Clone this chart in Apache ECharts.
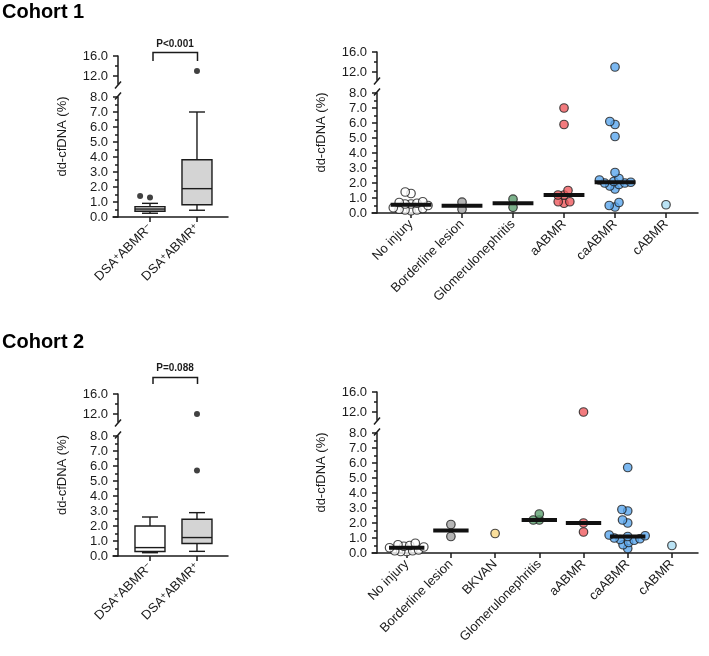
<!DOCTYPE html>
<html>
<head>
<meta charset="utf-8" />
<title>dd-cfDNA by cohort</title>
<script src="https://cdn.jsdelivr.net/npm/echarts@6/dist/echarts.min.js"></script>
<style>
  html, body { margin: 0; padding: 0; background: #fff; }
  #main { width: 709px; height: 656px; }
</style>
</head>
<body>
<div id="main"></div>
<script>
// ---- data ----
// box plots: [min, q1, median, q3, max]
const boxCats = ['DSA+ABMR-', 'DSA+ABMR+'];
const c1Box = [[0.25, 0.38, 0.53, 0.69, 0.91], [0.45, 0.82, 1.89, 3.82, 7.0]];
const c1Outliers = [[1.3, 1.4], [13.0]];
const c2Box = [[0.22, 0.3, 0.56, 2.0, 2.6], [0.31, 0.83, 1.23, 2.45, 2.89]];
const c2Outliers = [[], [5.7, 12.0]];

const c1Cats = ['No injury', 'Borderline lesion', 'Glomerulonephritis', 'aABMR', 'caABMR', 'cABMR'];
const c1NoInjury = [1.4, 1.3, 0.75, 0.7, 0.65, 0.6, 0.6, 0.5, 0.35, 0.3, 0.25, 0.2, 0.2, 0.15];
const c1Borderline = [0.72, 0.25];
const c1Glomerulo = [0.92, 0.38];
const c1aABMR = [7.0, 5.9, 1.5, 1.2, 1.2, 0.75, 0.75, 0.65];
const c1caABMR = [13.0, 6.1, 5.9, 5.1, 2.7, 2.3, 2.2, 2.1, 2.05, 2.0, 2.0, 1.9, 1.8, 1.6, 0.7, 0.5, 0.4];
const c1cABMR = [0.55];

const c2Cats = ['No injury', 'Borderline lesion', 'BKVAN', 'Glomerulonephritis', 'aABMR', 'caABMR', 'cABMR'];
const c2NoInjury = [0.65, 0.55, 0.5, 0.45, 0.4, 0.35, 0.2, 0.15, 0.15, 0.1, 0.1];
const c2Borderline = [1.9, 1.1];
const c2BKVAN = [1.3];
const c2Glomerulo = [2.2, 2.6, 2.2];
const c2aABMR = [12.0, 2.0, 1.4];
const c2caABMR = [5.7, 2.9, 2.8, 2.2, 2.0, 1.2, 1.15, 1.1, 1.0, 0.95, 0.9, 0.85, 0.7, 0.55, 0.3];
const c2cABMR = [0.5];

const upperTicks = [12, 16];
const upperMinor = [14];

// ---- styling ----
const INK = '#1b1b1b';
const FONT = '"Liberation Sans", Arial, Helvetica, sans-serif';
const COL = {
  'No injury': '#ffffff', 'Borderline lesion': '#a3a3a3', 'BKVAN': '#f9d783',
  'Glomerulonephritis': '#5b9e6e', 'aABMR': '#ef5a5e', 'caABMR': '#5aa6ee', 'cABMR': '#a9dcf3'
};
const UP_MIN = 10.4, UP_MAX = 16, LOW_MAX = 8;
const UP_PX = 5, LOW_PX = 15;

const opt = { animation: false, backgroundColor: '#fff', grid: [], xAxis: [], yAxis: [], series: [], graphic: [] };

function median(a) {
  const s = a.slice().sort((x, y) => x - y), n = s.length;
  return n % 2 ? s[(n - 1) / 2] : (s[n / 2 - 1] + s[n / 2]) / 2;
}

// simple beeswarm (points may overlap a bit, like the original): closest free spot to the centre
function swarm(vals, cat, xPx, yPx, d) {
  const placed = [];
  vals.slice().sort((a, b) => a - b).forEach(v => {
    const y = v * yPx;
    const cands = [0];
    placed.forEach(p => {
      const dy = Math.abs(p.y - y);
      if (dy < d) { const dx = Math.sqrt(d * d - dy * dy); cands.push(p.x - dx, p.x + dx); }
    });
    cands.sort((a, b) => Math.abs(a) - Math.abs(b));
    const x = cands.find(c => placed.every(p => (p.x - c) ** 2 + (p.y - y) ** 2 >= d * d - 0.01));
    placed.push({ x: x, y: y, v: v });
  });
  return placed.map(p => [cat + p.x / xPx, p.v]);
}

function addPanel(L) {
  const gUp = opt.grid.length;
  opt.grid.push({ left: L.left, width: L.width, top: L.upTop, height: (UP_MAX - UP_MIN) * UP_PX });
  opt.grid.push({ left: L.left, width: L.width, top: L.lowTop, height: LOW_MAX * LOW_PX });

  const idx = L.cats.map((c, i) => i);
  const lineStyle = { color: INK, width: 1.5 };
  const xUp = opt.xAxis.length;
  opt.xAxis.push({ type: 'value', gridIndex: gUp, min: L.xMin, max: L.xMax, show: false });
  opt.xAxis.push({
    type: 'value', gridIndex: gUp + 1, min: L.xMin, max: L.xMax,
    axisLine: { onZero: false, lineStyle: lineStyle },
    axisTick: { customValues: idx, length: 5, lineStyle: lineStyle },
    axisLabel: {
      customValues: idx, rotate: 45, margin: 9, fontFamily: FONT, fontSize: 13, color: INK,
      formatter: L.labelFmt || (v => L.cats[Math.round(v)]), rich: L.rich
    },
    splitLine: { show: false }
  });

  const lab = { fontFamily: FONT, fontSize: 13, color: INK, margin: 10, formatter: v => v.toFixed(1) };
  const yUp = opt.yAxis.length;
  opt.yAxis.push({
    type: 'value', gridIndex: gUp, position: 'left', min: UP_MIN, max: UP_MAX, offset: -5,
    axisLine: { onZero: false, lineStyle: lineStyle },
    axisTick: { customValues: upperTicks, length: 5, lineStyle: lineStyle },
    axisLabel: Object.assign({ customValues: upperTicks }, lab), splitLine: { show: false }
  });
  opt.yAxis.push({
    type: 'value', gridIndex: gUp, position: 'left', min: UP_MIN, max: UP_MAX, offset: -5,
    axisLine: { show: false, onZero: false },
    axisTick: { show: true, customValues: upperMinor, length: 3, lineStyle: lineStyle },
    axisLabel: { show: false }, splitLine: { show: false }
  });
  opt.yAxis.push({
    type: 'value', gridIndex: gUp + 1, position: 'left', min: 0, max: LOW_MAX, interval: 1, offset: -5,
    axisLine: { onZero: false, lineStyle: lineStyle },
    axisTick: { length: 5, lineStyle: lineStyle },
    minorTick: { show: true, splitNumber: 2, length: 3, lineStyle: lineStyle },
    axisLabel: lab, splitLine: { show: false }, minorSplitLine: { show: false }
  });

  // axis break marks, y-axis name
  const ax = L.left + 5, upBottom = L.upTop + (UP_MAX - UP_MIN) * UP_PX;
  [upBottom + 1, L.lowTop - 1].forEach(y => opt.graphic.push({
    type: 'line', shape: { x1: ax - 3, y1: y + 3.5, x2: ax + 3, y2: y - 3.5 },
    style: { stroke: INK, lineWidth: 1.5 }
  }));
  opt.graphic.push({
    type: 'text', x: L.left - 51, y: (L.upTop + L.lowTop + LOW_MAX * LOW_PX) / 2, rotation: Math.PI / 2,
    style: { text: 'dd-cfDNA (%)', fontFamily: FONT, fontSize: 13, fill: INK, align: 'center', verticalAlign: 'middle' }
  });

  return { xUp: xUp, xLow: xUp + 1, yUp: yUp, yLow: yUp + 2, xPx: L.width / (L.xMax - L.xMin) };
}

function addScatter(L, groups) {
  const a = addPanel(L);
  const meds = [];
  groups.forEach((vals, i) => {
    const style = { color: COL[L.cats[i]], borderColor: INK, borderWidth: 1.2 };
    const low = vals.filter(v => v <= LOW_MAX), up = vals.filter(v => v > LOW_MAX);
    opt.series.push({ type: 'scatter', xAxisIndex: a.xLow, yAxisIndex: a.yLow, symbolSize: 8.5,
      itemStyle: style, z: 3, data: swarm(low, i, a.xPx, LOW_PX, 6) });
    if (up.length) opt.series.push({ type: 'scatter', xAxisIndex: a.xUp, yAxisIndex: a.yUp, symbolSize: 8.5,
      itemStyle: style, z: 3, data: swarm(up, i, a.xPx, UP_PX, 6) });
    if (vals.length > 1) meds.push([i, median(vals)]);
  });
  opt.series.push({
    type: 'custom', xAxisIndex: a.xLow, yAxisIndex: a.yLow, z: 4, data: meds,
    renderItem: function (params, api) {
      const p0 = api.coord([api.value(0) - 0.4, api.value(1)]);
      const p1 = api.coord([api.value(0) + 0.4, api.value(1)]);
      return { type: 'line', shape: { x1: p0[0], y1: p0[1], x2: p1[0], y2: p1[1] }, style: { stroke: '#111', lineWidth: 4 } };
    }
  });
}

function addBox(L, boxes, outliers, fills) {
  const a = addPanel(L);
  opt.series.push({
    type: 'custom', xAxisIndex: a.xLow, yAxisIndex: a.yLow, z: 2,
    data: boxes.map((b, i) => [i].concat(b)),
    renderItem: function (params, api) {
      const x = api.value(0);
      const pt = k => api.coord([x, api.value(k)]);
      const lo = pt(1), q1 = pt(2), md = pt(3), q3 = pt(4), hi = pt(5);
      const cx = lo[0], bw = 30, cw = 16;
      const st = { stroke: INK, lineWidth: 1.4 };
      return { type: 'group', children: [
        { type: 'line', shape: { x1: cx, y1: q3[1], x2: cx, y2: hi[1] }, style: st },
        { type: 'line', shape: { x1: cx, y1: q1[1], x2: cx, y2: lo[1] }, style: st },
        { type: 'line', shape: { x1: cx - cw / 2, y1: hi[1], x2: cx + cw / 2, y2: hi[1] }, style: st },
        { type: 'line', shape: { x1: cx - cw / 2, y1: lo[1], x2: cx + cw / 2, y2: lo[1] }, style: st },
        { type: 'rect', shape: { x: cx - bw / 2, y: q3[1], width: bw, height: q1[1] - q3[1] },
          style: { fill: fills[params.dataIndex], stroke: INK, lineWidth: 1.4 } },
        { type: 'line', shape: { x1: cx - bw / 2, y1: md[1], x2: cx + bw / 2, y2: md[1] }, style: st }
      ] };
    }
  });
  outliers.forEach((vals, i) => {
    const low = vals.filter(v => v <= LOW_MAX), up = vals.filter(v => v > LOW_MAX);
    const common = { type: 'scatter', symbolSize: 6, itemStyle: { color: '#111' }, z: 3 };
    if (low.length) opt.series.push(Object.assign({ xAxisIndex: a.xLow, yAxisIndex: a.yLow, data: swarm(low, i, a.xPx, LOW_PX, 10) }, common));
    if (up.length) opt.series.push(Object.assign({ xAxisIndex: a.xUp, yAxisIndex: a.yUp, data: swarm(up, i, a.xPx, UP_PX, 10) }, common));
  });
}

const boxRich = {
  n: { fontFamily: FONT, fontSize: 13, color: INK },
  s: { fontFamily: FONT, fontSize: 9, color: INK, verticalAlign: 'top' }
};
const boxFmt = v => '{n|' + boxCats[Math.round(v)].replace(/[+-]/g, m => '}{s|' + (m === '-' ? '−' : '+') + '}{n|') + '}';

addBox({ left: 113, width: 115, upTop: 56, lowTop: 97, xMin: -0.787, xMax: 1.66, cats: boxCats, labelFmt: boxFmt, rich: boxRich },
  c1Box, c1Outliers, ['#d4d4d4', '#d4d4d4']);
addScatter({ left: 372, width: 326, upTop: 52, lowTop: 93, xMin: -0.765, xMax: 5.627, cats: c1Cats },
  [c1NoInjury, c1Borderline, c1Glomerulo, c1aABMR, c1caABMR, c1cABMR]);
addBox({ left: 113, width: 115, upTop: 394, lowTop: 436, xMin: -0.787, xMax: 1.66, cats: boxCats, labelFmt: boxFmt, rich: boxRich },
  c2Box, c2Outliers, ['#ffffff', '#d4d4d4']);
addScatter({ left: 372, width: 326, upTop: 392, lowTop: 433, xMin: -0.785, xMax: 6.59, cats: c2Cats },
  [c2NoInjury, c2Borderline, c2BKVAN, c2Glomerulo, c2aABMR, c2caABMR, c2cABMR]);

// titles and significance brackets
[['Cohort 1', 12], ['Cohort 2', 342]].forEach(t => opt.graphic.push({
  type: 'text', x: 2, y: t[1],
  style: { text: t[0], fontFamily: FONT, fontSize: 20, fontWeight: 'bold', fill: '#000', align: 'left', verticalAlign: 'middle' }
}));
[['P<0.001', 52.5, 61, 44], ['P=0.088', 377.5, 384, 368]].forEach(b => {
  opt.graphic.push({
    type: 'polyline', shape: { points: [[153, b[2]], [153, b[1]], [197.5, b[1]], [197.5, b[2]]] },
    style: { stroke: INK, lineWidth: 1.5, fill: null }
  });
  opt.graphic.push({
    type: 'text', x: 175, y: b[3],
    style: { text: b[0], fontFamily: FONT, fontSize: 10, fontWeight: 'bold', fill: INK, align: 'center', verticalAlign: 'middle' }
  });
});

const chart = echarts.init(document.getElementById('main'));
chart.setOption(opt);
</script>
</body>
</html>
